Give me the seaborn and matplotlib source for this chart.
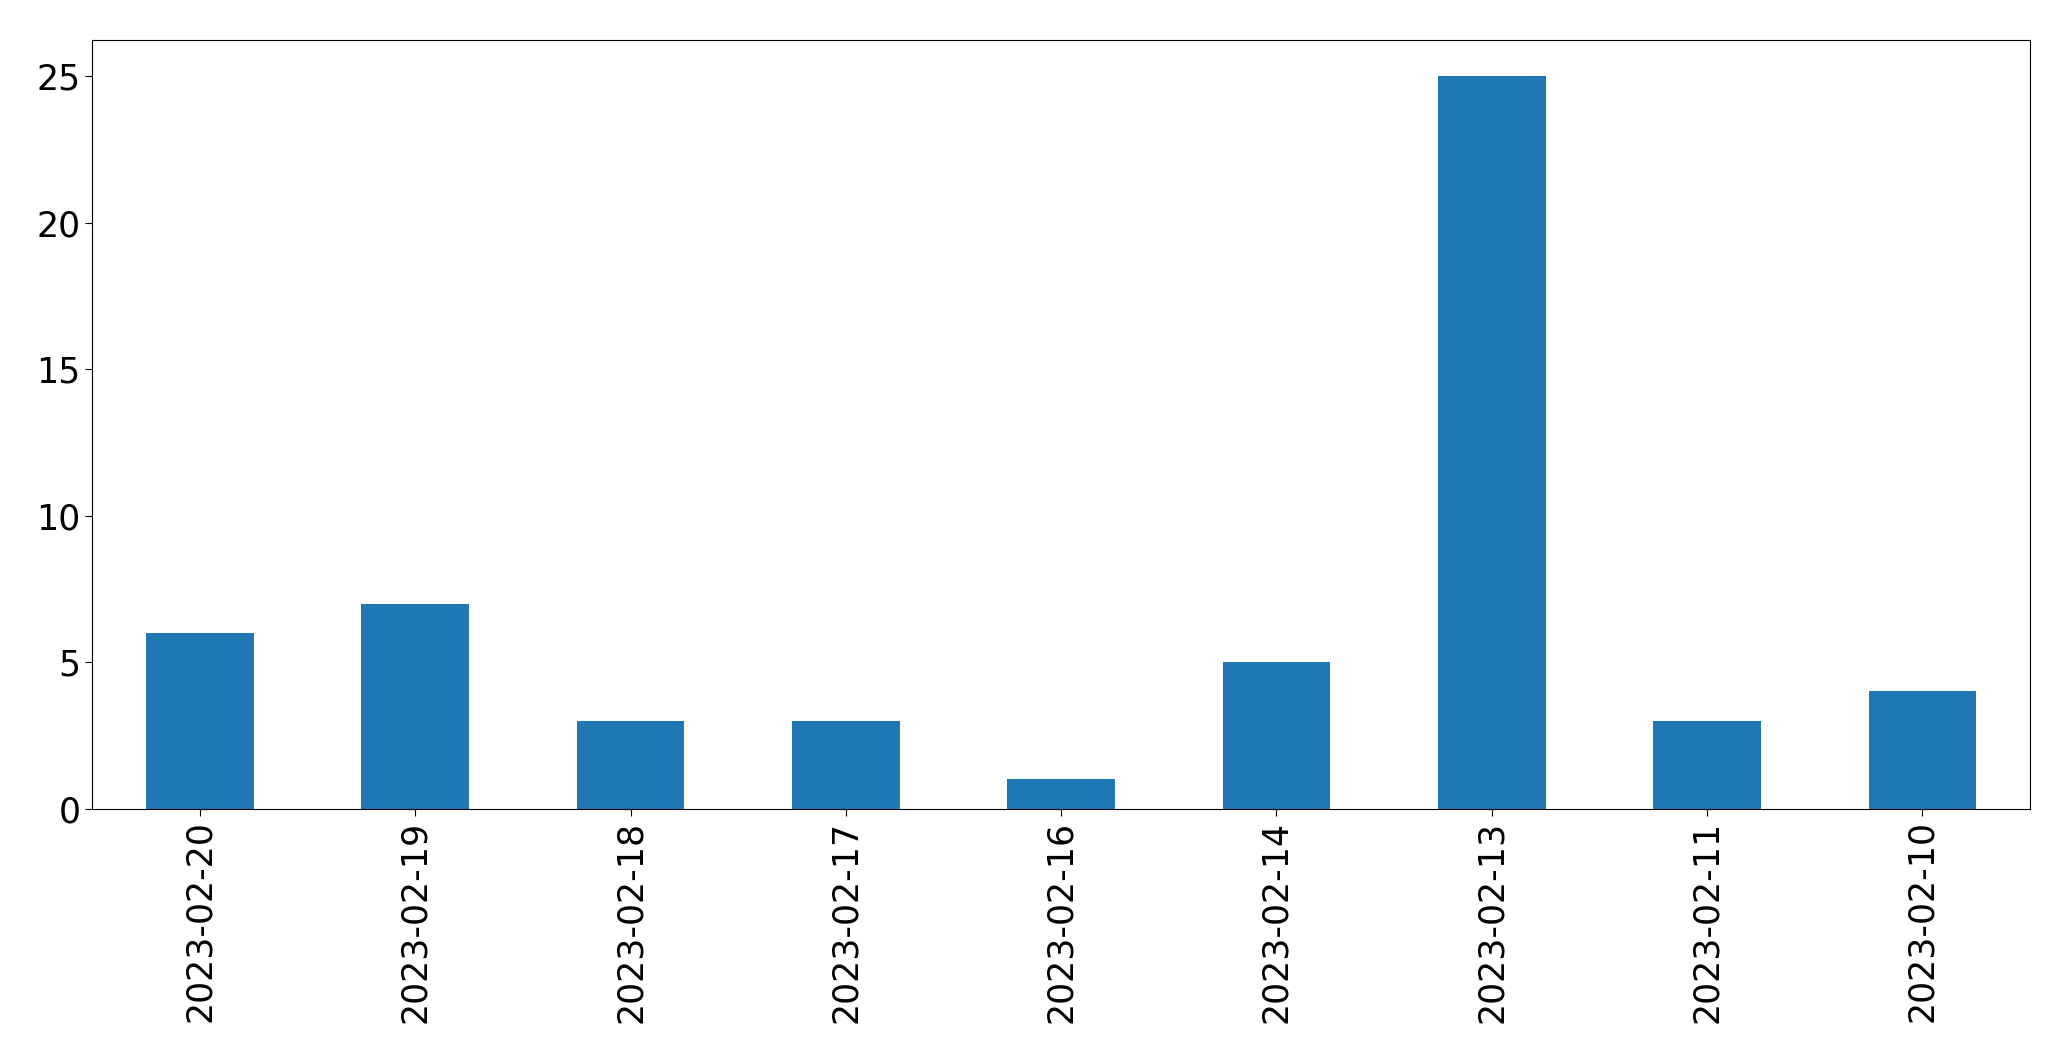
import matplotlib
matplotlib.use("Agg")
import matplotlib.pyplot as plt
import seaborn as sns
import pandas as pd

# daily counts, in the order shown
dates = ['2023-02-20', '2023-02-19', '2023-02-18', '2023-02-17', '2023-02-16',
         '2023-02-14', '2023-02-13', '2023-02-11', '2023-02-10']
counts = [6, 7, 3, 3, 1, 5, 25, 3, 4]

df = pd.DataFrame({'date': dates, 'count': counts})

fig = plt.figure(figsize=(20.71, 10.61), dpi=100)
ax = fig.add_axes([0.0446, 0.2379, 0.9356, 0.7247])

sns.barplot(data=df, x='date', y='count', order=dates, color='#1f77b4',
            saturation=1, width=0.5, linewidth=0, ax=ax)

ax.set_xlim(-0.5, len(dates) - 0.5)
ax.set_ylim(0, max(counts) * 1.05)
ax.set_xlabel('')
ax.set_ylabel('')
ax.tick_params(axis='both', labelsize=25, length=5)
plt.setp(ax.get_xticklabels(), rotation=90)

fig.savefig('out.png', dpi=100)
